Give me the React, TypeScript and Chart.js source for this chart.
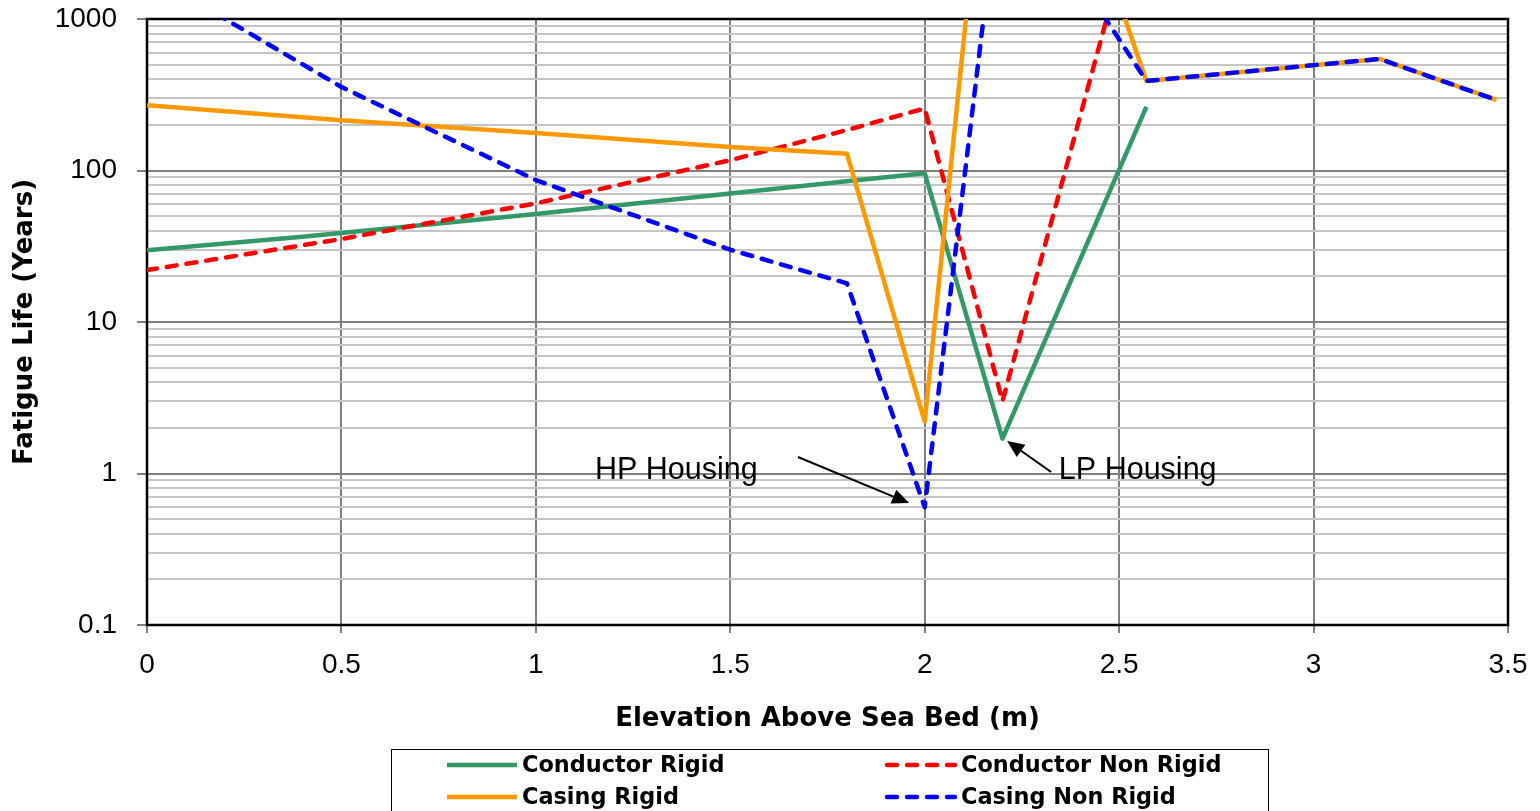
import React, { useEffect, useRef } from "react";
import { Chart, registerables } from "chart.js";

Chart.register(...registerables);

// ---- axis ticks ----
const X_TICKS = [0, 0.5, 1, 1.5, 2, 2.5, 3, 3.5];
const Y_DECADES = [0.1, 1, 10, 100, 1000];
const Y_TICK_LABELS = ["0.1", "1", "10", "100", "1000"];
const Y_MINOR_MULTIPLIERS = [2, 3, 4, 5, 6, 7, 8, 9];

// ---- series (elevation in m, fatigue life in years) ----
const SERIES_NAMES = ["Conductor Rigid", "Conductor Non Rigid", "Casing Rigid", "Casing Non Rigid"];

const CONDUCTOR_RIGID_X = [0, 0.4, 1.0, 1.5, 1.8, 2.0, 2.2, 2.57];
const CONDUCTOR_RIGID_Y = [29.8, 36.5, 51.6, 70.6, 85, 96, 1.7, 263];

const CONDUCTOR_NON_RIGID_X = [0, 0.5, 1.0, 1.5, 1.8, 2.0, 2.2, 2.57];
const CONDUCTOR_NON_RIGID_Y = [22, 35.3, 60.7, 117, 185, 257, 3.0, 9200];

const CASING_RIGID_X = [0, 0.5, 1.0, 1.5, 1.8, 2.0, 2.2, 2.57, 3.17, 3.47];
const CASING_RIGID_Y = [270, 215, 177, 143, 129, 2.2, 230000, 390, 545, 292];

const CASING_NON_RIGID_X = [0, 0.5, 1.0, 1.5, 1.8, 2.0, 2.2, 2.57, 3.17, 3.47];
const CASING_NON_RIGID_Y = [2000, 356, 86.5, 30, 18, 0.6, 11000, 390, 545, 292];

// ---- annotations (data coordinates) ----
const ANNOTATION_TEXTS = ["HP Housing", "LP Housing"];
const ANNOTATION_TEXT_X = [1.152, 2.345];
const ANNOTATION_TEXT_Y = [0.916, 0.916];
const ARROW_FROM_X = [1.674, 2.325];
const ARROW_FROM_Y = [1.285, 1.023];
const ARROW_TO_X = [1.96, 2.212];
const ARROW_TO_Y = [0.638, 1.639];

const TICK_FONT = { family: "'Liberation Sans', Arial, sans-serif", size: 28 };
const TITLE_FONT = { family: "'DejaVu Sans', sans-serif", size: 26, weight: "bold" as const };
const LEGEND_FONT = "bold 22.4px 'DejaVu Sans', sans-serif";
const NOTE_FONT = "30.5px 'Liberation Sans', Arial, sans-serif";

const zip = (xs: number[], ys: number[]) => xs.map((x, i) => ({ x, y: ys[i] }));

const isDecade = (v: number) => Math.abs(Math.log10(v) - Math.round(Math.log10(v))) < 1e-6;

const framePlugin = {
  id: "frame",
  beforeDatasetsDraw(chart: any) {
    const { ctx, chartArea: a } = chart;
    ctx.save();
    ctx.strokeStyle = "#000";
    ctx.lineWidth = 2.5;
    ctx.strokeRect(a.left, a.top, a.right - a.left, a.bottom - a.top);
    ctx.restore();
  },
};

const annotationPlugin = {
  id: "notes",
  afterDatasetsDraw(chart: any) {
    const { ctx } = chart;
    const xs = chart.scales.x;
    const ys = chart.scales.y;
    ctx.save();
    ctx.fillStyle = "#000";
    ctx.strokeStyle = "#000";
    ctx.font = NOTE_FONT;
    ctx.textAlign = "left";
    ctx.textBaseline = "alphabetic";
    ANNOTATION_TEXTS.forEach((t, i) => {
      ctx.fillText(t, xs.getPixelForValue(ANNOTATION_TEXT_X[i]), ys.getPixelForValue(ANNOTATION_TEXT_Y[i]));
      const x1 = xs.getPixelForValue(ARROW_FROM_X[i]);
      const y1 = ys.getPixelForValue(ARROW_FROM_Y[i]);
      const x2 = xs.getPixelForValue(ARROW_TO_X[i]);
      const y2 = ys.getPixelForValue(ARROW_TO_Y[i]);
      const ang = Math.atan2(y2 - y1, x2 - x1);
      const headLen = 17;
      const headHalf = 7.5;
      const bx = x2 - headLen * Math.cos(ang);
      const by = y2 - headLen * Math.sin(ang);
      ctx.lineWidth = 2;
      ctx.beginPath();
      ctx.moveTo(x1, y1);
      ctx.lineTo(bx, by);
      ctx.stroke();
      ctx.beginPath();
      ctx.moveTo(x2, y2);
      ctx.lineTo(bx + headHalf * Math.sin(ang), by - headHalf * Math.cos(ang));
      ctx.lineTo(bx - headHalf * Math.sin(ang), by + headHalf * Math.cos(ang));
      ctx.closePath();
      ctx.fill();
    });
    ctx.restore();
  },
};

const legendPlugin = {
  id: "boxLegend",
  afterDraw(chart: any) {
    const { ctx } = chart;
    const ds = chart.data.datasets;
    ctx.save();
    ctx.strokeStyle = "#000";
    ctx.lineWidth = 1;
    ctx.strokeRect(391.5, 749.5, 877, 90);
    const cols = [
      { lx: 447, tx: 522 },
      { lx: 885, tx: 961 },
    ];
    const rows = [765, 797];
    ds.forEach((d: any, i: number) => {
      const c = cols[i % 2];
      const y = rows[Math.floor(i / 2)];
      const dashed = d.borderDash && d.borderDash.length;
      ctx.strokeStyle = d.borderColor;
      ctx.lineWidth = d.borderWidth;
      ctx.lineCap = dashed ? "round" : "butt";
      ctx.setLineDash(d.borderDash || []);
      ctx.beginPath();
      ctx.moveTo(c.lx + (dashed ? 2 : 0), y);
      ctx.lineTo(c.lx + 70, y);
      ctx.stroke();
      ctx.setLineDash([]);
      ctx.fillStyle = "#000";
      ctx.font = LEGEND_FONT;
      ctx.textAlign = "left";
      ctx.textBaseline = "middle";
      ctx.fillText(d.label, c.tx, y + 1);
    });
    ctx.restore();
  },
};

export default function App() {
  const ref = useRef<HTMLCanvasElement | null>(null);

  useEffect(() => {
    if (!ref.current) return;
    const dash = [10, 10];
    const chart = new Chart(ref.current, {
      type: "line",
      data: {
        datasets: [
          {
            label: SERIES_NAMES[0],
            data: zip(CONDUCTOR_RIGID_X, CONDUCTOR_RIGID_Y),
            borderColor: "#339966",
            borderWidth: 4.5,
            order: 4,
          },
          {
            label: SERIES_NAMES[1],
            data: zip(CONDUCTOR_NON_RIGID_X, CONDUCTOR_NON_RIGID_Y),
            borderColor: "#FF0000",
            borderWidth: 4.5,
            borderDash: dash,
            borderCapStyle: "round",
            order: 3,
          },
          {
            label: SERIES_NAMES[2],
            data: zip(CASING_RIGID_X, CASING_RIGID_Y),
            borderColor: "#FF9900",
            borderWidth: 4.5,
            order: 2,
          },
          {
            label: SERIES_NAMES[3],
            data: zip(CASING_NON_RIGID_X, CASING_NON_RIGID_Y),
            borderColor: "#0000FF",
            borderWidth: 4.5,
            borderDash: dash,
            borderCapStyle: "round",
            order: 1,
          },
        ] as any,
      },
      options: {
        animation: false,
        responsive: false,
        layout: { padding: { left: 0, top: 19, right: 32, bottom: 71 } },
        plugins: { legend: { display: false }, tooltip: { enabled: false } },
        elements: { point: { radius: 0, hoverRadius: 0 }, line: { tension: 0, borderJoinStyle: "round" } },
        scales: {
          x: {
            type: "linear",
            min: X_TICKS[0],
            max: X_TICKS[X_TICKS.length - 1],
            afterBuildTicks: (s: any) => {
              s.ticks = X_TICKS.map((v) => ({ value: v }));
            },
            ticks: {
              callback: (v: any) => String(v),
              font: TICK_FONT,
              color: "#000",
              padding: 15,
              maxRotation: 0,
              autoSkip: false,
            },
            grid: { color: "#808080", lineWidth: 2, tickLength: 8, tickColor: "#808080" },
            border: { display: false },
            title: {
              display: true,
              text: "Elevation Above Sea Bed (m)",
              font: TITLE_FONT,
              color: "#000",
              padding: { top: 0, bottom: 5 },
            },
            afterFit: (s: any) => {
              s.height = 115;
              s.paddingLeft = 0;
              s.paddingRight = 0;
            },
          },
          y: {
            type: "logarithmic",
            min: Y_DECADES[0],
            max: Y_DECADES[Y_DECADES.length - 1],
            afterBuildTicks: (s: any) => {
              const t: { value: number }[] = [];
              Y_DECADES.forEach((d, i) => {
                t.push({ value: d });
                if (i < Y_DECADES.length - 1) Y_MINOR_MULTIPLIERS.forEach((m) => t.push({ value: +(d * m).toPrecision(6) }));
              });
              s.ticks = t;
            },
            ticks: {
              autoSkip: false,
              font: TICK_FONT,
              color: "#000",
              padding: 20,
              callback: (v: any) => {
                const i = Y_DECADES.findIndex((d) => Math.abs(d - v) / d < 1e-6);
                return i >= 0 ? Y_TICK_LABELS[i] : "";
              },
            },
            grid: {
              lineWidth: 2,
              tickLength: 10,
              color: (c: any) => (c.tick && isDecade(c.tick.value) ? "#808080" : "#c6c6c6"),
              tickColor: (c: any) => (c.tick && isDecade(c.tick.value) ? "#808080" : "rgba(0,0,0,0)"),
            },
            border: { display: false },
            title: {
              display: true,
              text: "Fatigue Life (Years)",
              font: TITLE_FONT,
              color: "#000",
              padding: { top: 9.4, bottom: 0 },
            },
            afterFit: (s: any) => {
              s.width = 147;
              s.paddingTop = 0;
              s.paddingBottom = 0;
            },
          },
        },
      } as any,
      plugins: [framePlugin, annotationPlugin, legendPlugin],
    });
    return () => chart.destroy();
  }, []);

  return (
    <div style={{ position: "fixed", left: 0, top: 0, width: 1540, height: 811, background: "#fff" }}>
      <canvas ref={ref} width={1540} height={811} style={{ width: 1540, height: 811, display: "block" }} />
    </div>
  );
}
